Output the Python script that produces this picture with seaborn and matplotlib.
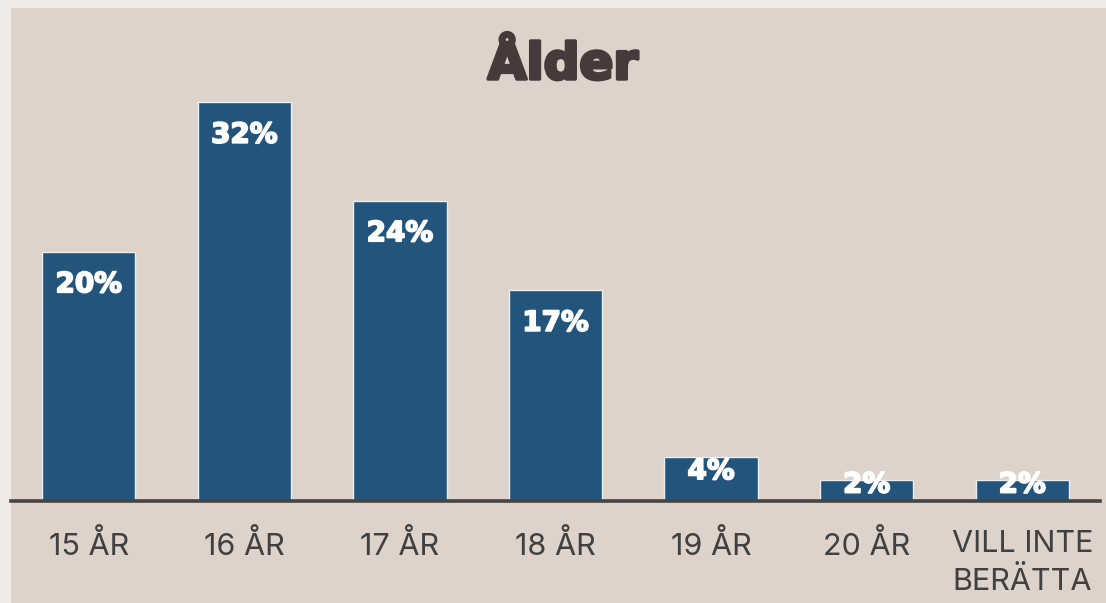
import matplotlib
matplotlib.use('Agg')
import matplotlib.pyplot as plt
import matplotlib.patheffects as pe
import seaborn as sns
import pandas as pd
from matplotlib.patches import Rectangle

# data (bar heights, rounded labels)
categories = ['15 ÅR', '16 ÅR', '17 ÅR', '18 ÅR', '19 ÅR', '20 ÅR', 'VILL INTE\nBERÄTTA']
values = [20, 32, 24.1, 16.9, 3.5, 1.7, 1.7]
value_labels = ['20%', '32%', '24%', '17%', '4%', '2%', '2%']

df = pd.DataFrame({'Ålder': categories, 'Andel': values})

sns.set_theme(style='white')
plt.rcParams['font.family'] = ['Inter', 'DejaVu Sans']

outer_bg = '#efeae6'
panel_bg = '#ddd3cb'
bar_color = '#23547c'
heavy = ['DejaVu Sans']

fig = plt.figure(figsize=(11.06, 6.03), dpi=100, facecolor=outer_bg)
# beige panel behind everything
fig.patches.append(Rectangle((11 / 1106, 0), 1, 1 - 8 / 603, transform=fig.transFigure,
                             facecolor=panel_bg, edgecolor='none', zorder=-10))

ax = fig.add_axes([11 / 1106, 102 / 603, 1089 / 1106, 436 / 603])
ax.set_zorder(5)
ax.set_facecolor('none')

sns.barplot(data=df, x='Ålder', y='Andel', color=bar_color, width=0.6,
            edgecolor='#e8eef2', linewidth=1, saturation=1, ax=ax)

ax.set_xlim(-0.5, 6.5)
ax.set_ylim(0, 35)

# value labels inside bars (short bars: label sits near the top)
for i, (v, lab) in enumerate(zip(values, value_labels)):
    y = v - 2.6 if v > 5 else 0.6 * v + 0.3
    ax.text(i, y, lab, ha='center', va='center', color='white',
            fontsize=20, fontweight='bold', family=heavy,
            path_effects=[pe.withStroke(linewidth=1.3, foreground='white')])

for s in ['top', 'right', 'left']:
    ax.spines[s].set_visible(False)
ax.spines['bottom'].set_color('#454545')
ax.spines['bottom'].set_linewidth(2.6)
ax.set_yticks([])
ax.set_xlabel('')
ax.set_ylabel('')
ax.tick_params(axis='x', length=0, pad=21, labelsize=22, labelcolor='#404040')
for t in ax.get_xticklabels():
    t.set_family(['Inter', 'DejaVu Sans'])
    t.set_linespacing(1.4)

fig.text(563 / 1106, 1 - 65 / 603, 'Ålder', ha='center', va='center',
         fontsize=36, fontweight='bold', color='#463b3a', family=heavy,
         path_effects=[pe.withStroke(linewidth=2.5, foreground='#463b3a')])

fig.savefig('out.png', dpi=100, facecolor=outer_bg)
